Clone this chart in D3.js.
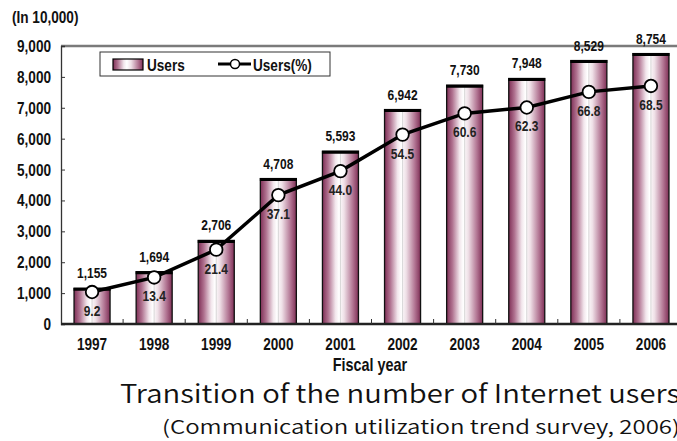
<!DOCTYPE html>
<html>
<head>
<meta charset="utf-8">
<script src="https://cdn.jsdelivr.net/npm/d3@7"></script>
<style>
  body { margin: 0; background: #fff; }
  .nar { font-family: "Liberation Sans", Arial, sans-serif; font-weight: bold; }
  .jp { font-family: "Noto Sans CJK JP", sans-serif; font-weight: 350; }
</style>
</head>
<body>
<div id="chart"></div>
<script>
'use strict';

// data
const years    = ['1997', '1998', '1999', '2000', '2001', '2002', '2003', '2004', '2005', '2006'];
const users    = [1155, 1694, 2706, 4708, 5593, 6942, 7730, 7948, 8529, 8754];
const usersPct = [9.2, 13.4, 21.4, 37.1, 44.0, 54.5, 60.6, 62.3, 66.8, 68.5];
const yTicks   = [0, 1000, 2000, 3000, 4000, 5000, 6000, 7000, 8000, 9000];
const pctTicks = [0, 10, 20, 30, 40, 50, 60, 70, 80];

const W = 677, H = 441;
const plotL = 61, plotR = 682, plotT = 46, plotB = 324;
const SQ = 0.8; // squeeze factor: fake a narrow font

const svg = d3.select('#chart').append('svg')
  .attr('width', W).attr('height', H);

// bar gradient: dark edges, white near the middle
const grad = svg.append('defs').append('linearGradient')
  .attr('id', 'barGrad').attr('x1', '0%').attr('x2', '100%');
[[0, '#7f2f56'], [0.16, '#b07290'], [0.36, '#f2e6ec'], [0.46, '#ffffff'],
 [0.6, '#efe0e7'], [0.84, '#b27593'], [1, '#7f2f56']].forEach(s => {
  grad.append('stop').attr('offset', s[0]).attr('stop-color', s[1]);
});

const x = d3.scaleBand().domain(years).range([plotL, plotR])
  .paddingInner(0.42).paddingOuter(0.21);
const y = d3.scaleLinear().domain([0, 9000]).range([plotB, plotT]);
const yp = d3.scaleLinear().domain([0, 80]).range([plotB, plotT]);
const cx = (d, i) => x(years[i]) + x.bandwidth() / 2;

// narrow text helper
function narrow(sel, xf, yf) {
  return sel.attr('class', 'nar')
    .attr('transform', `scale(${SQ},1)`)
    .attr('x', (d, i) => (typeof xf === 'function' ? xf(d, i) : xf) / SQ)
    .attr('y', yf);
}

// top frame line
svg.append('line')
  .attr('x1', plotL).attr('x2', plotR).attr('y1', plotT).attr('y2', plotT)
  .style('stroke', '#7a7a7a').style('stroke-width', 2.5);

// left axis
const yAxis = svg.append('g')
  .attr('transform', `translate(${plotL},0)`)
  .call(d3.axisLeft(y).tickValues(yTicks).tickSize(-4).tickPadding(10).tickFormat(d3.format(',')));
yAxis.select('.domain').style('stroke', '#333').style('stroke-width', 1.3);
yAxis.selectAll('.tick line').style('stroke', '#333');
yAxis.selectAll('text')
  .attr('x', -10 / SQ)
  .attr('transform', `scale(${SQ},1)`)
  .style('font-size', '17px').style('fill', '#111')
  .style('font-family', '"Liberation Sans", Arial, sans-serif')
  .style('font-weight', 'bold');

// right axis (percent), mostly cut by the picture edge
const pAxis = svg.append('g')
  .attr('transform', `translate(${plotR},0)`)
  .call(d3.axisRight(yp).tickValues(pctTicks).tickSize(-5).tickFormat(''));
pAxis.select('.domain').style('stroke', '#999');
pAxis.selectAll('.tick line').style('stroke', '#999');

// bars
const bars = svg.append('g');
bars.selectAll('rect')
  .data(users)
  .enter()
  .append('rect')
  .attr('x', (d, i) => x(years[i]))
  .attr('width', x.bandwidth())
  .attr('y', d => y(d))
  .attr('height', d => plotB - y(d))
  .attr('fill', 'url(#barGrad)')
  .style('stroke', '#111').style('stroke-width', 1.3);

// faint centre line inside bars
bars.selectAll('line.mid')
  .data(users)
  .enter()
  .append('line')
  .attr('class', 'mid')
  .attr('x1', cx).attr('x2', cx)
  .attr('y1', d => y(d) + 2).attr('y2', plotB)
  .style('stroke', '#cfcfcf').style('stroke-width', 0.8);

// thick top edge on bars
bars.selectAll('line.topedge')
  .data(users)
  .enter()
  .append('line')
  .attr('class', 'topedge')
  .attr('x1', (d, i) => x(years[i]) - 0.5)
  .attr('x2', (d, i) => x(years[i]) + x.bandwidth() + 0.5)
  .attr('y1', d => y(d) + 1).attr('y2', d => y(d) + 1)
  .style('stroke', '#000').style('stroke-width', 3);

// baseline and category ticks
svg.append('line')
  .attr('x1', plotL).attr('x2', plotR).attr('y1', plotB).attr('y2', plotB)
  .style('stroke', '#222').style('stroke-width', 2.5);
svg.append('g').selectAll('line')
  .data(years.slice(1))
  .enter()
  .append('line')
  .attr('x1', d => x(d) - x.step() * x.paddingInner() / 2)
  .attr('x2', d => x(d) - x.step() * x.paddingInner() / 2)
  .attr('y1', plotB).attr('y2', plotB - 5)
  .style('stroke', '#333').style('stroke-width', 1);

// bar value labels
svg.append('g').selectAll('text')
  .data(users)
  .enter()
  .append('text')
  .call(narrow, cx, d => y(d) - 10)
  .attr('text-anchor', 'middle')
  .style('font-size', '15px').style('fill', '#111')
  .text(d3.format(','));

// percent line
const line = d3.line().x(cx).y(d => yp(d));
svg.append('path')
  .datum(usersPct)
  .attr('d', line)
  .style('fill', 'none').style('stroke', '#000').style('stroke-width', 3.5);

svg.append('g').selectAll('circle')
  .data(usersPct)
  .enter()
  .append('circle')
  .attr('cx', cx)
  .attr('cy', d => yp(d))
  .attr('r', 6.3)
  .style('fill', '#fff').style('stroke', '#000').style('stroke-width', 1.8);

svg.append('g').selectAll('text')
  .data(usersPct)
  .enter()
  .append('text')
  .call(narrow, cx, d => yp(d) + 24)
  .attr('text-anchor', 'middle')
  .style('font-size', '15px').style('fill', '#222')
  .text(d3.format('.1f'));

// category labels
svg.append('g').selectAll('text')
  .data(years)
  .enter()
  .append('text')
  .call(narrow, (d, i) => cx(d, i), 350)
  .attr('text-anchor', 'middle')
  .style('font-size', '17px').style('fill', '#111')
  .text(d => d);

svg.append('text')
  .call(narrow, 370, 371)
  .attr('text-anchor', 'middle')
  .style('font-size', '18px').style('fill', '#111')
  .text('Fiscal year');

svg.append('text')
  .call(narrow, 12, 23)
  .style('font-size', '17px').style('fill', '#111')
  .text('(In 10,000)');

// legend
const lg = svg.append('g').attr('transform', 'translate(100,52)');
lg.append('rect')
  .attr('width', 230).attr('height', 24)
  .style('fill', '#fff').style('stroke', '#333').style('stroke-width', 1);
lg.append('rect')
  .attr('x', 13).attr('y', 7).attr('width', 30).attr('height', 11)
  .attr('fill', 'url(#barGrad)').style('stroke', '#000').style('stroke-width', 1.2);
lg.append('text')
  .call(narrow, 47, 19)
  .style('font-size', '17px').style('fill', '#111')
  .text('Users');
lg.append('line')
  .attr('x1', 118).attr('x2', 151).attr('y1', 12).attr('y2', 12)
  .style('stroke', '#000').style('stroke-width', 3);
lg.append('circle')
  .attr('cx', 135).attr('cy', 12).attr('r', 4.5)
  .style('fill', '#fff').style('stroke', '#000').style('stroke-width', 1.5);
lg.append('text')
  .call(narrow, 153, 19)
  .style('font-size', '17px').style('fill', '#111')
  .text('Users(%)');

// titles
svg.append('text').attr('class', 'jp')
  .attr('x', 120).attr('y', 403)
  .attr('textLength', 560).attr('lengthAdjust', 'spacingAndGlyphs')
  .style('font-size', '25px').style('fill', '#111')
  .text('Transition of the number of Internet users');
svg.append('text').attr('class', 'jp')
  .attr('x', 162).attr('y', 434)
  .attr('textLength', 518).attr('lengthAdjust', 'spacingAndGlyphs')
  .style('font-size', '19px').style('fill', '#111')
  .text('(Communication utilization trend survey, 2006)');
</script>
</body>
</html>
